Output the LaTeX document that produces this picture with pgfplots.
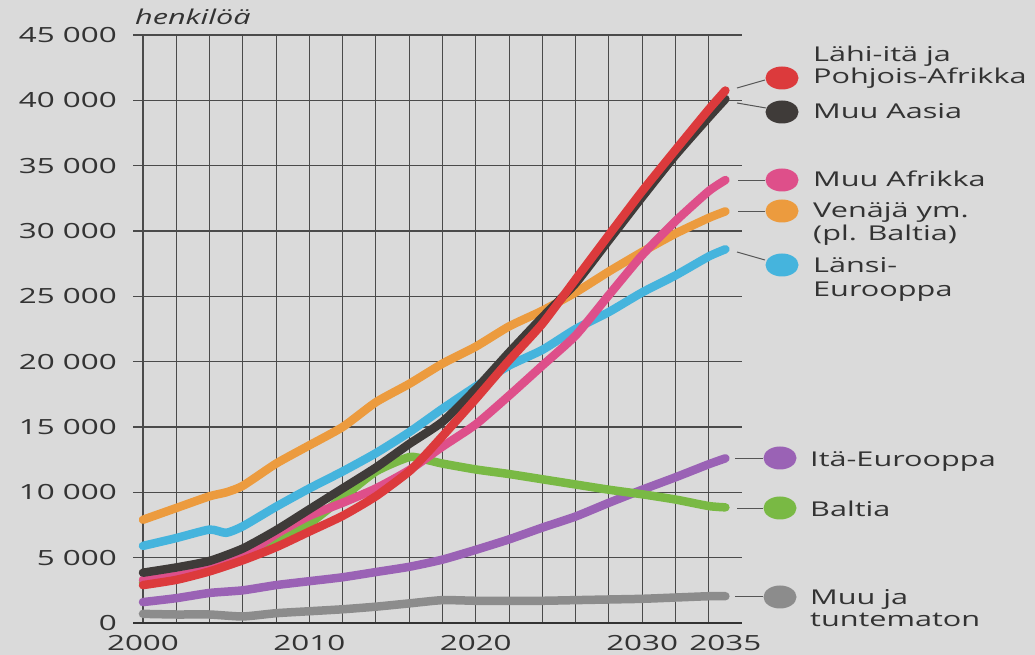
\documentclass[border=0pt]{standalone}
\usepackage{fontspec}
\setmainfont{Open Sans}[FakeStretch=1.5]
\usepackage{pgfplots}
\pgfplotsset{compat=1.18}
\definecolor{bg}{HTML}{DADADA}
\definecolor{gridcol}{HTML}{4A4A4A}
\definecolor{axiscol}{HTML}{333333}
\definecolor{textcol}{HTML}{333333}
\definecolor{cred}{HTML}{DC3A3C}
\definecolor{cblack}{HTML}{3F3B39}
\definecolor{cpink}{HTML}{DE4F8A}
\definecolor{corange}{HTML}{EC9B3E}
\definecolor{ccyan}{HTML}{45B4DD}
\definecolor{cpurple}{HTML}{9A62B5}
\definecolor{cgreen}{HTML}{79B944}
\definecolor{cgray}{HTML}{8C8C8C}
\definecolor{leader}{HTML}{555555}
\newcommand{\lgfont}{\fontsize{20.5}{23}\selectfont}
\begin{document}
\begin{tikzpicture}[x=1bp,y=1bp]
\fill[bg] (0,0) rectangle (1035,655);
\begin{axis}[
  at={(133bp,32bp)}, anchor=south west,
  scale only axis, width=609bp, height=588bp,
  xmin=1999.4, xmax=2036, ymin=0, ymax=45000,
  axis x line*=bottom, axis y line*=left,
  x axis line style={-, line width=2bp, draw=axiscol},
  y axis line style={draw=none},
  xtick={2000,2002,...,2034},
  xticklabels={2000,,,,,2010,,,,,2020,,,,,2030,,,},
  extra x ticks={2035}, extra x tick labels={2035},
  extra x tick style={grid=none},
  ytick={0,5000,...,45000},
  yticklabels={0,5 000,10 000,15 000,20 000,25 000,30 000,35 000,40 000,45 000},
  scaled y ticks=false, scaled x ticks=false,
  grid=major,
  major grid style={draw=gridcol, line width=1.1bp},
  major tick length=0pt,
  ticklabel style={font=\fontsize{21}{25}\selectfont, text=textcol},
  xticklabel style={anchor=north, inner sep=0pt, yshift=-12bp},
  yticklabel style={anchor=east, inner sep=0pt, xshift=-16bp},
  clip=false,
  every axis plot/.append style={line width=8.5bp, line cap=round, line join=round, smooth, tension=0.35},
]
% Muu ja tuntematon
\addplot[cgray] coordinates {(2000,700)(2002,650)(2004,650)(2006,500)(2008,750)(2010,900)(2012,1050)(2014,1250)(2016,1500)(2018,1750)(2020,1700)(2022,1700)(2024,1700)(2026,1750)(2028,1800)(2030,1850)(2032,1950)(2034,2050)(2035,2050)};
% Ita-Eurooppa
\addplot[cpurple] coordinates {(2000,1600)(2002,1900)(2004,2300)(2006,2500)(2008,2900)(2010,3200)(2012,3500)(2014,3900)(2016,4300)(2018,4850)(2020,5600)(2022,6400)(2024,7300)(2026,8150)(2028,9200)(2030,10200)(2032,11150)(2034,12150)(2035,12600)};
% Baltia
\addplot[cgreen] coordinates {(2000,3100)(2002,3500)(2004,4050)(2006,4950)(2008,6100)(2010,7600)(2012,9600)(2014,11600)(2016,12700)(2017,12500)(2018,12200)(2020,11750)(2022,11400)(2024,11000)(2026,10600)(2028,10200)(2030,9850)(2032,9450)(2034,8950)(2035,8850)};
% Lansi-Eurooppa
\addplot[ccyan] coordinates {(2000,5900)(2002,6500)(2004,7150)(2005,6900)(2006,7400)(2008,8900)(2010,10300)(2012,11600)(2014,13000)(2016,14600)(2018,16400)(2020,18100)(2022,19700)(2024,20900)(2026,22500)(2028,23800)(2030,25300)(2032,26600)(2034,28050)(2035,28600)};
% Venaja ym.
\addplot[corange] coordinates {(2000,7900)(2002,8800)(2004,9700)(2005,10000)(2006,10500)(2008,12200)(2010,13600)(2012,15000)(2014,16900)(2016,18300)(2018,19850)(2020,21150)(2022,22700)(2024,23900)(2026,25300)(2028,26900)(2030,28400)(2032,29800)(2034,31000)(2035,31500)};
% Muu Afrikka
\addplot[cpink] coordinates {(2000,3300)(2002,3600)(2004,4150)(2006,5100)(2008,6800)(2010,8200)(2012,9200)(2014,10300)(2016,11700)(2018,13500)(2020,15200)(2022,17400)(2024,19700)(2026,22000)(2028,25100)(2030,28150)(2032,30750)(2034,33050)(2035,33900)};
% Muu Aasia
\addplot[cblack] coordinates {(2000,3850)(2002,4250)(2004,4750)(2006,5700)(2008,7100)(2010,8700)(2012,10300)(2014,11900)(2016,13700)(2018,15400)(2020,17900)(2022,20700)(2024,23400)(2026,26000)(2028,29300)(2030,32600)(2032,35800)(2034,38700)(2035,40100)};
% Lahi-ita ja Pohjois-Afrikka
\addplot[cred] coordinates {(2000,2900)(2002,3300)(2004,3950)(2006,4800)(2008,5800)(2010,7000)(2012,8200)(2014,9700)(2016,11600)(2017,12900)(2018,14300)(2020,17150)(2022,20100)(2024,22900)(2026,26300)(2028,29700)(2030,33050)(2032,36200)(2034,39300)(2035,40750)};
\end{axis}
% unit label
\node[anchor=base west, inner sep=0pt, text=textcol, font=\lgfont\itshape] at (135,630) {henkilöä};
% leaders
\begin{scope}[draw=leader, line width=1bp]
\draw (737,567) -- (765,575);
\draw (737,552) -- (766,547);
\draw (738,474) -- (765,474);
\draw (738,443) -- (765,443);
\draw (737,403) -- (765,395);
\draw (735,196) -- (763,196);
\draw (737,146) -- (763,146);
\draw (735,58) -- (763,58);
\end{scope}
% legend keys
\fill[cred] (782,577) ellipse [x radius=16.5bp, y radius=11.5bp];
\fill[cblack] (782,543) ellipse [x radius=16.5bp, y radius=11.5bp];
\fill[cpink] (782,475) ellipse [x radius=16.5bp, y radius=11.5bp];
\fill[corange] (782,444) ellipse [x radius=16.5bp, y radius=11.5bp];
\fill[ccyan] (782,390) ellipse [x radius=16.5bp, y radius=11.5bp];
\fill[cpurple] (780,197) ellipse [x radius=16.5bp, y radius=11.5bp];
\fill[cgreen] (780,147) ellipse [x radius=16.5bp, y radius=11.5bp];
\fill[cgray] (780,58) ellipse [x radius=16.5bp, y radius=11.5bp];
% legend texts
\begin{scope}[every node/.style={anchor=base west, inner sep=0pt, text=textcol, font=\lgfont}]
\node at (813,593) {Lähi-itä ja};
\node at (813,571) {Pohjois-Afrikka};
\node at (813,536) {Muu Aasia};
\node at (813,468) {Muu Afrikka};
\node at (813,437) {Venäjä ym.};
\node at (813,414) {(pl. Baltia)};
\node at (813,382) {Länsi-};
\node at (813,358) {Eurooppa};
\node at (810,188) {Itä-Eurooppa};
\node at (810,138) {Baltia};
\node at (810,50) {Muu ja};
\node at (810,28) {tuntematon};
\end{scope}
\pgfresetboundingbox
\path[use as bounding box] (0,0) rectangle (1035,655);
\end{tikzpicture}
\end{document}
